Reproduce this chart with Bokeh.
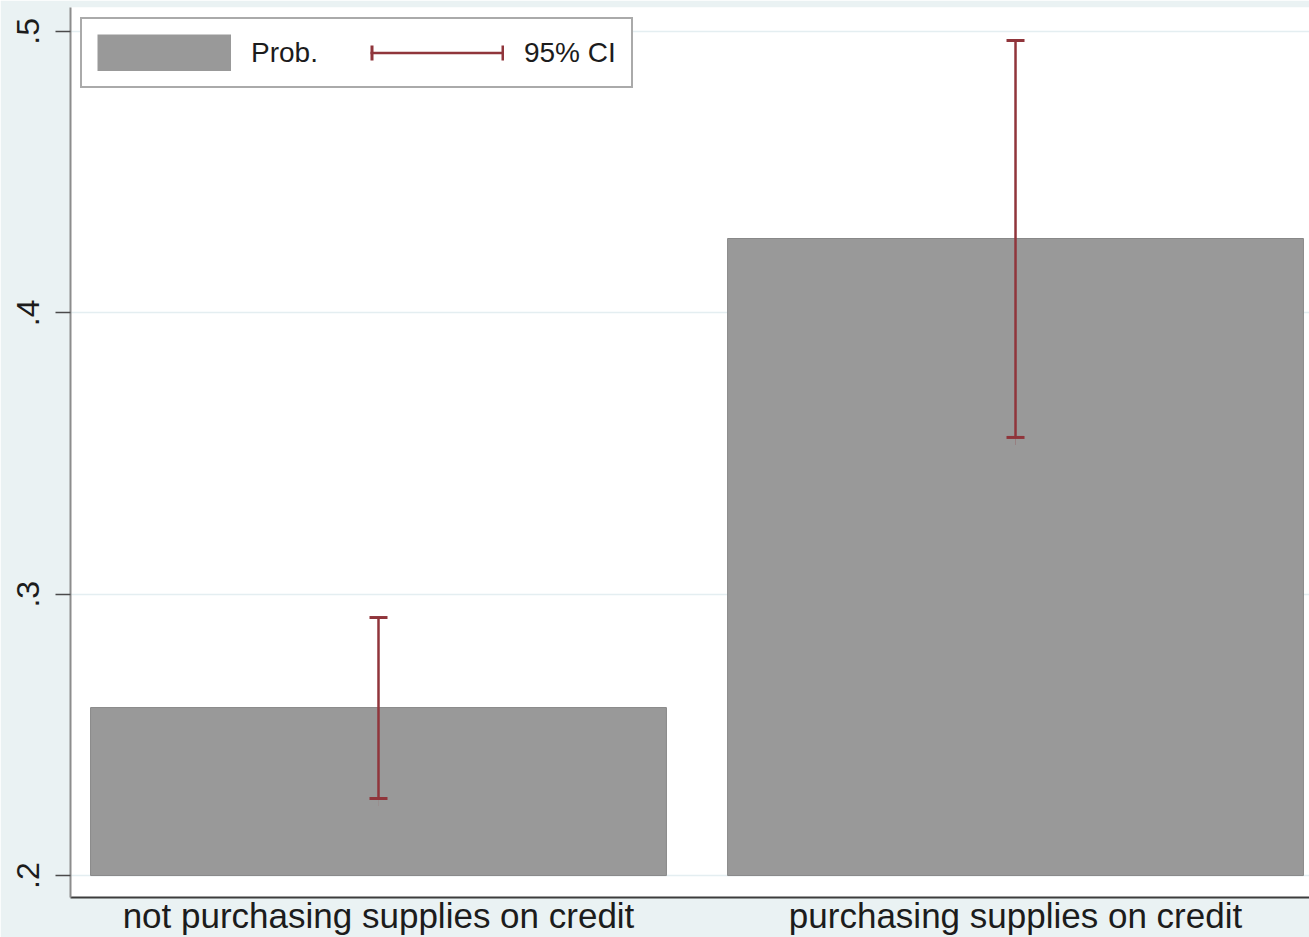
from bokeh.plotting import figure
from bokeh.models import Range1d, FixedTicker, Legend, LegendItem
from bokeh.embed import file_html
from bokeh.resources import INLINE

# ---- data ----
categories = ["not purchasing supplies on credit", "purchasing supplies on credit"]
prob = [0.2597, 0.4264]
ci_low = [0.2274, 0.3557]
ci_high = [0.2917, 0.4968]
bar_base = 0.2
y_ticks = [0.2, 0.3, 0.4, 0.5]
y_tick_labels = [".2", ".3", ".4", ".5"]
legend_labels = ["Prob.", "95% CI"]

x = [i + 1 for i in range(len(categories))]

BG = "#EAF2F3"
BAR = "#999999"
CI = "#90353B"
FONT = "Liberation Sans"

p = figure(width=1309, height=937, output_backend="svg", toolbar_location=None,
           x_range=Range1d(0.5165, 2.4615), y_range=Range1d(0.1922, 0.5085),
           min_border_left=70, min_border_right=0, min_border_top=7, min_border_bottom=40)
p.border_fill_color = BG
p.background_fill_color = "white"
p.outline_line_color = None

bars = p.vbar(x=x, width=0.904, bottom=bar_base, top=prob,
              fill_color=BAR, line_color="#888888", line_width=1)
stems = p.segment(x0=x, y0=ci_low, x1=x, y1=ci_high, line_color=CI, line_width=2.5)
p.scatter(x=x + x, y=ci_low + ci_high, marker="dash", size=18,
          line_color=CI, line_width=3)

# legend swatches: zero-length segments (draw nothing in the plot area)
swatch = p.segment(x0=x, y0=[bar_base] * len(x), x1=x, y1=[bar_base] * len(x),
                   line_color=BAR, line_width=37, line_cap="butt")
cap_swatch = p.segment(x0=x, y0=ci_low, x1=x, y1=ci_low,
                       line_color=CI, line_width=15, line_cap="butt",
                       line_dash="3 128 3")

# axes
p.xaxis.ticker = FixedTicker(ticks=x)
p.xaxis.major_label_overrides = {xi: c for xi, c in zip(x, categories)}
p.xaxis.major_tick_line_color = None
p.xaxis.major_tick_out = 0
p.xaxis.major_tick_in = 0
p.xaxis.minor_tick_line_color = None
p.xaxis.axis_line_color = "#3c3c3c"
p.xaxis.axis_line_width = 2
p.xaxis.major_label_text_font = FONT
p.xaxis.major_label_text_font_size = "35px"
p.xaxis.major_label_text_color = "#1c1c1c"
p.xaxis.major_label_standoff = -2

p.yaxis.ticker = FixedTicker(ticks=y_ticks)
p.yaxis.major_label_overrides = {t: l for t, l in zip(y_ticks, y_tick_labels)}
p.yaxis.major_label_orientation = "vertical"
p.yaxis.minor_tick_line_color = None
p.yaxis.major_tick_in = 0
p.yaxis.major_tick_out = 15
p.yaxis.major_tick_line_color = "#4a4a4a"
p.yaxis.major_tick_line_width = 1.5
p.yaxis.axis_line_color = "#8c8c8c"
p.yaxis.axis_line_width = 2
p.yaxis.major_label_text_font = FONT
p.yaxis.major_label_text_font_size = "32px"
p.yaxis.major_label_text_color = "#1c1c1c"
p.yaxis.major_label_standoff = 16

p.xgrid.grid_line_color = None
p.ygrid.ticker = FixedTicker(ticks=y_ticks)
p.ygrid.grid_line_color = "#E4EEF1"
p.ygrid.grid_line_width = 1.5

legend = Legend(items=[LegendItem(label=legend_labels[0], renderers=[swatch]),
                       LegendItem(label=legend_labels[1], renderers=[stems, cap_swatch])],
                location="top_left", orientation="horizontal",
                glyph_width=134, glyph_height=37, label_standoff=20,
                spacing=52, padding=15, margin=10,
                label_text_font=FONT, label_text_font_size="28px",
                label_text_color="#1c1c1c",
                border_line_color="#555555", border_line_width=2,
                background_fill_color="white", background_fill_alpha=1.0)
p.add_layout(legend)

open("out.html", "w").write(file_html(p, INLINE))
